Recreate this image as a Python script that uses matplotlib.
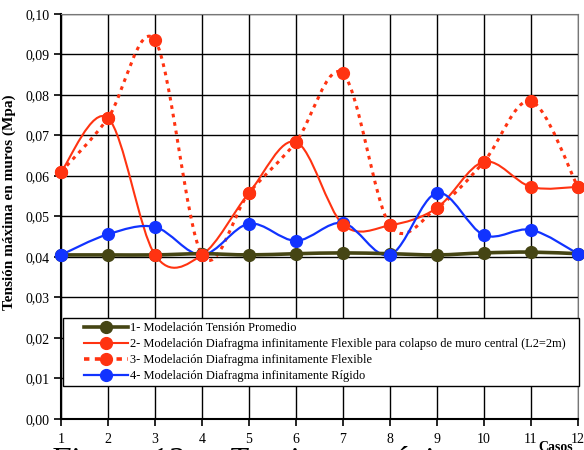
import matplotlib
matplotlib.use('Agg')
import matplotlib.pyplot as plt
from matplotlib.path import Path
from matplotlib.patches import PathPatch, Rectangle
import numpy as np

casos = [1, 2, 3, 4, 5, 6, 7, 8, 9, 10, 11, 12]
promedio = [0.0405, 0.0405, 0.0405, 0.0408, 0.0405, 0.0408, 0.0410, 0.0408, 0.0405, 0.0410, 0.0412, 0.0408]
flex_colapso = [0.0610, 0.0743, 0.0405, 0.0405, 0.0558, 0.0684, 0.0480, 0.0478, 0.0521, 0.0635, 0.0573, 0.0573]
flexible = [0.0610, 0.0743, 0.0935, 0.0405, 0.0558, 0.0684, 0.0853, 0.0478, 0.0521, 0.0635, 0.0785, 0.0573]
rigido = [0.0405, 0.0456, 0.0474, 0.0405, 0.0482, 0.0440, 0.0484, 0.0405, 0.0558, 0.0454, 0.0467, 0.0408]

labels = ['1- Modelación Tensión Promedio',
          '2- Modelación Diafragma infinitamente Flexible para colapso de muro central (L2=2m)',
          '3- Modelación Diafragma infinitamente Flexible',
          '4- Modelación Diafragma infinitamente Rígido']

plt.rcParams['font.family'] = ['Liberation Serif', 'DejaVu Serif']


def smooth(ax, x, y, **kw):
    # excel-like smoothed line: cubic bezier through the points
    x = np.asarray(x, float)
    y = np.asarray(y, float)
    n = len(x)
    verts = [(x[0], y[0])]
    codes = [Path.MOVETO]
    for i in range(n - 1):
        p0 = np.array([x[max(i - 1, 0)], y[max(i - 1, 0)]])
        p1 = np.array([x[i], y[i]])
        p2 = np.array([x[i + 1], y[i + 1]])
        p3 = np.array([x[min(i + 2, n - 1)], y[min(i + 2, n - 1)]])
        c1 = p1 + (p2 - p0) / 6.0
        c2 = p2 - (p3 - p1) / 6.0
        verts += [tuple(c1), tuple(c2), tuple(p2)]
        codes += [Path.CURVE4] * 3
    patch = PathPatch(Path(verts, codes), facecolor='none', **kw)
    ax.add_patch(patch)


fig = plt.figure(figsize=(5.84, 4.5), dpi=100)
ax = fig.add_axes([0.1045, 0.069, 0.885, 0.9])

olive = '#454514'
red = '#ff3311'
blue = '#1133ff'

smooth(ax, casos, flexible, edgecolor=red, lw=2.2, linestyle=(0, (1.2, 1.6)), zorder=3)
smooth(ax, casos, flex_colapso, edgecolor=red, lw=1.5, zorder=4)
smooth(ax, casos, rigido, edgecolor=blue, lw=1.6, zorder=4)
smooth(ax, casos, promedio, edgecolor=olive, lw=2.6, zorder=5)

ms = 8.5
ax.plot(casos, promedio, 'o', color=olive, ms=ms, zorder=6, clip_on=False)
ax.plot(casos, rigido, 'o', color=blue, ms=ms, zorder=6, clip_on=False)
ax.plot(casos, flex_colapso, 'o', color=red, ms=ms, zorder=6, clip_on=False)
ax.plot(casos, flexible, 'o', color=red, ms=ms, zorder=6, clip_on=False)

# legend box drawn by hand, legend entries without frame
ax.add_patch(Rectangle((0.004, 0.082), 0.998, 0.167, transform=ax.transAxes,
                       facecolor='white', edgecolor='black', lw=1.0,
                       zorder=9, clip_on=False))
l1, = ax.plot([], [], '-o', color=olive, lw=2.6, ms=ms)
l2, = ax.plot([], [], '-o', color=red, lw=1.5, ms=ms)
l3, = ax.plot([], [], 'o', color=red, lw=2.6, ms=ms, linestyle=(0, (1.5, 1.5)))
l4, = ax.plot([], [], '-o', color=blue, lw=1.6, ms=ms)
leg = ax.legend([l1, l2, l3, l4], labels, loc='upper left',
                bbox_to_anchor=(0.04, 0.244),
                fontsize=8.9, frameon=False, handlelength=3.6,
                labelspacing=0.33, borderpad=0.15, handletextpad=0.15,
                borderaxespad=0)
leg.set_zorder(10)

ax.set_xlim(1, 12)
ax.set_ylim(0, 0.10)
ax.set_xticks(casos)
yt = np.arange(0, 0.101, 0.01)
ax.set_yticks(yt)
ax.set_yticklabels([('%.2f' % v).replace('.', ',') for v in yt])
ax.grid(True, color='black', lw=1.0)
ax.set_axisbelow(True)
ax.tick_params(axis='both', direction='out', length=5, width=1.2, labelsize=10)
ax.tick_params(axis='x', pad=5)
for s in ['top', 'right']:
    ax.spines[s].set_color('#777777')
for s in ['left', 'bottom']:
    ax.spines[s].set_linewidth(1.5)

ax.set_ylabel('Tensión máxima en muros (Mpa)', fontsize=11, fontweight='bold')
ax.yaxis.set_label_coords(-0.088, 0.535)
fig.text(0.951, -0.008, 'Casos', fontsize=10, fontweight='bold', ha='center', va='bottom')
fig.text(0.085, -0.044, 'Figura 12.-   Tensiones máximas', fontsize=24, style='italic', va='baseline')

fig.savefig('out.png', dpi=100)
